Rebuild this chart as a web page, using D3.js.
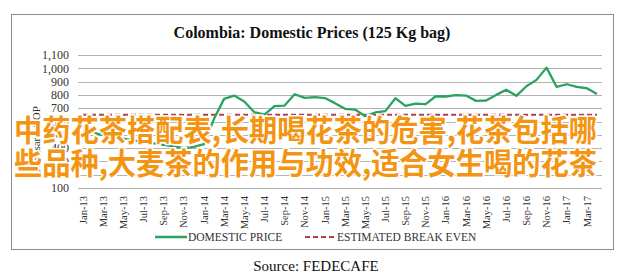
<!DOCTYPE html>
<html>
<head>
<meta charset="utf-8">
<script src="https://cdn.jsdelivr.net/npm/d3@7"></script>
<style>
  body { margin: 0; background: #fff; }
</style>
</head>
<body>
<div id="chart"></div>
<script>
// monthly domestic price, thousand COP per 125 kg bag (Jan-13 .. Apr-17)
var months = ["Jan-13","Feb-13","Mar-13","Apr-13","May-13","Jun-13","Jul-13","Aug-13","Sep-13","Oct-13","Nov-13","Dec-13",
  "Jan-14","Feb-14","Mar-14","Apr-14","May-14","Jun-14","Jul-14","Aug-14","Sep-14","Oct-14","Nov-14","Dec-14",
  "Jan-15","Feb-15","Mar-15","Apr-15","May-15","Jun-15","Jul-15","Aug-15","Sep-15","Oct-15","Nov-15","Dec-15",
  "Jan-16","Feb-16","Mar-16","Apr-16","May-16","Jun-16","Jul-16","Aug-16","Sep-16","Oct-16","Nov-16","Dec-16",
  "Jan-17","Feb-17","Mar-17","Apr-17"];
var domesticPrice = [524,516,497,490,471,458,445,435,425,412,400,410,
  430,620,770,795,750,670,652,715,720,805,778,783,
  776,738,695,690,640,668,678,775,718,735,730,790,
  788,798,795,755,758,800,838,793,865,913,1005,860,
  880,860,850,807];
var breakEven = 650;
var yTicks = [100,200,300,400,500,600,700,800,900,1000,1100];
var overlayLines = ["中药花茶搭配表,长期喝花茶的危害,花茶包括哪", "些品种,大麦茶的作用与功效,适合女生喝的花茶"];

var width = 622, height = 277;
var margin = {top: 55, right: 20, bottom: 89, left: 78};
var serif = "'Liberation Serif', 'Times New Roman', 'DejaVu Serif', serif";

var svg = d3.select("#chart").append("svg")
  .attr("width", width)
  .attr("height", height)
  .style("font-family", serif);

// outer frame
svg.append("rect")
  .attr("x", 11.5).attr("y", 14.5)
  .attr("width", 602).attr("height", 235)
  .attr("fill", "none")
  .attr("stroke", "#8c8c8c")
  .attr("stroke-width", 1);

svg.append("text")
  .text("Colombia:  Domestic Prices (125 Kg bag)")
  .attr("x", 312).attr("y", 38)
  .attr("text-anchor", "middle")
  .style("font-family", serif)
  .attr("font-weight", "bold")
  .attr("font-size", 16)
  .attr("fill", "#111");

var x = d3.scaleBand()
  .domain(months)
  .range([margin.left, width - margin.right]);

var y = d3.scaleLinear()
  .domain([100, 1100])
  .range([height - margin.bottom, margin.top]);

// gridlines
svg.append("g")
  .selectAll("line")
  .data(yTicks)
  .enter().append("line")
  .attr("x1", margin.left)
  .attr("x2", width - margin.right)
  .attr("y1", function(d) { return Math.round(y(d)) + 0.5; })
  .attr("y2", function(d) { return Math.round(y(d)) + 0.5; })
  .style("stroke", "#b4b4b4")
  .style("stroke-width", 1);

// y tick labels
svg.append("g")
  .selectAll("text")
  .data(yTicks)
  .enter().append("text")
  .attr("x", 69)
  .attr("y", function(d) { return y(d); })
  .attr("dy", "0.35em")
  .attr("text-anchor", "end")
  .style("font-family", serif)
  .attr("font-size", 12)
  .attr("fill", "#333")
  .text(d3.format(","));

svg.append("text")
  .text("Thousand COP")
  .attr("transform", "translate(40," + 140 + ") rotate(-90)")
  .attr("text-anchor", "middle")
  .style("font-family", serif)
  .attr("font-size", 11)
  .attr("fill", "#333");

// x tick labels, every other month
var xLabels = months.filter(function(d, i) { return i % 2 == 0; });
svg.append("g")
  .selectAll("text")
  .data(xLabels)
  .enter().append("text")
  .attr("transform", function(d) {
    return "translate(" + (x(d) + x.bandwidth() / 2) + "," + (height - margin.bottom + 8) + ") rotate(-90)";
  })
  .attr("dy", "0.35em")
  .attr("text-anchor", "end")
  .style("font-family", serif)
  .attr("font-size", 10.5)
  .attr("fill", "#333")
  .text(function(d) { return d; });

// break even dashed line
svg.append("line")
  .attr("x1", x(months[0]) + x.bandwidth() / 2)
  .attr("x2", x(months[months.length - 1]) + x.bandwidth() / 2)
  .attr("y1", y(breakEven))
  .attr("y2", y(breakEven))
  .style("stroke", "#b0404e")
  .style("stroke-width", 2)
  .style("stroke-dasharray", "5,3");

var line = d3.line()
  .x(function(d, i) { return x(months[i]) + x.bandwidth() / 2; })
  .y(function(d) { return y(d); });

svg.append("path")
  .datum(domesticPrice)
  .attr("d", line)
  .attr("fill", "none")
  .style("stroke", "#2ba260")
  .style("stroke-width", 2.3)
  .style("stroke-linejoin", "round");

// legend
var legend = svg.append("g").attr("transform", "translate(0,237)");
legend.append("line")
  .attr("x1", 155).attr("x2", 187).attr("y1", 0).attr("y2", 0)
  .style("stroke", "#2ba260").style("stroke-width", 2.5);
legend.append("text")
  .attr("x", 188).attr("y", 0).attr("dy", "0.35em")
  .style("font-family", serif)
  .attr("font-size", 11.5).attr("fill", "#333")
  .text("DOMESTIC PRICE");
legend.append("line")
  .attr("x1", 305).attr("x2", 336).attr("y1", 0).attr("y2", 0)
  .style("stroke", "#b0404e").style("stroke-width", 2)
  .style("stroke-dasharray", "5,3");
legend.append("text")
  .attr("x", 337).attr("y", 0).attr("dy", "0.35em")
  .style("font-family", serif)
  .attr("font-size", 11.5).attr("fill", "#333")
  .text("ESTIMATED BREAK EVEN");

svg.append("text")
  .text("Source: FEDECAFE")
  .attr("x", 316).attr("y", 271)
  .attr("text-anchor", "middle")
  .style("font-family", serif)
  .attr("font-size", 15)
  .attr("fill", "#111");

// overlay caption
svg.append("g")
  .selectAll("text")
  .data(overlayLines)
  .enter().append("text")
  .attr("x", 14)
  .attr("y", function(d, i) { return 141 + i * 33; })
  .attr("textLength", 583)
  .attr("lengthAdjust", "spacingAndGlyphs")
  .style("font-family", "'Noto Sans CJK SC', sans-serif")
  .style("font-weight", "bold")
  .style("font-size", "30px")
  .style("fill", "#f39512")
  .style("stroke", "#fff")
  .style("stroke-width", 3)
  .style("paint-order", "stroke")
  .text(function(d) { return d; });
</script>
</body>
</html>
